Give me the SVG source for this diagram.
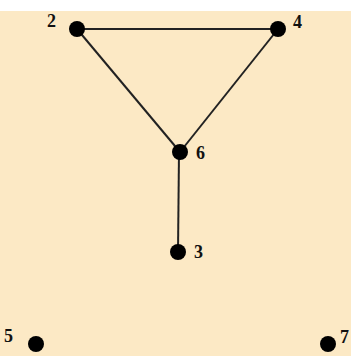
<svg xmlns="http://www.w3.org/2000/svg" width="351" height="356" viewBox="0 0 351 356">
<style>
.n{fill:#000}
.e{stroke:#222;stroke-width:2;fill:none}
.t{font-family:"Liberation Serif",serif;font-size:18px;font-weight:bold;fill:#111}
</style>
<rect x="0" y="0" width="351" height="356" fill="#fff"/>
<rect x="0" y="11" width="351" height="345" fill="#FCE9C5"/>
<g id="edges">
<line class="e" x1="77" y1="29" x2="278" y2="29"/>
<line class="e" x1="77" y1="29" x2="180" y2="152"/>
<line class="e" x1="278" y1="29" x2="180" y2="152"/>
<line class="e" x1="179" y1="152" x2="178" y2="252"/>
</g>
<g id="n2"><circle class="n" cx="77" cy="29" r="8"/><text class="t" x="47" y="27">2</text></g>
<g id="n4"><circle class="n" cx="278" cy="29" r="8"/><text class="t" x="293" y="28">4</text></g>
<g id="n6"><circle class="n" cx="180" cy="152" r="8"/><text class="t" x="196" y="159">6</text></g>
<g id="n3"><circle class="n" cx="178" cy="252" r="8"/><text class="t" x="194" y="258">3</text></g>
<g id="n5"><circle class="n" cx="36" cy="344" r="8"/><text class="t" x="4" y="342">5</text></g>
<g id="n7"><circle class="n" cx="328" cy="344" r="8"/><text class="t" x="340" y="343">7</text></g>
</svg>
